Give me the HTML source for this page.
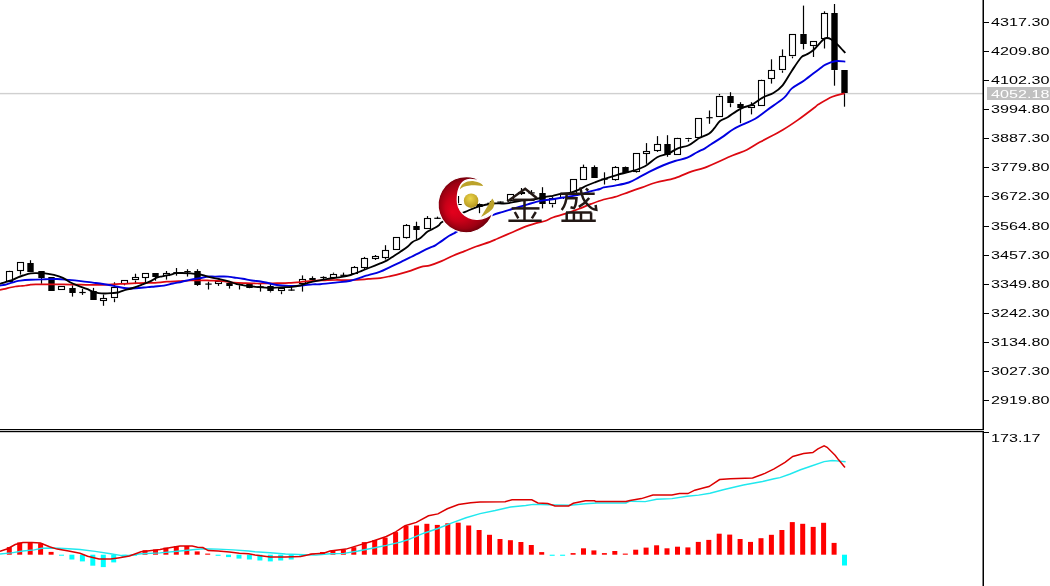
<!DOCTYPE html>
<html><head><meta charset="utf-8">
<style>
html,body{margin:0;padding:0;background:#fff;}
body{width:1050px;height:586px;overflow:hidden;position:relative;}
svg{position:absolute;left:0;top:0;filter:blur(0.3px);}
.w{stroke:#000;stroke-width:1.2;}
.bu{fill:#fff;stroke:#000;stroke-width:1.1;}
.bd{fill:#000;}
.lbl{font-family:"Liberation Sans",sans-serif;font-size:11px;fill:#000;}
</style></head>
<body>
<svg width="1050" height="586" viewBox="0 0 1050 586">
<defs>
<radialGradient id="rg" gradientUnits="userSpaceOnUse" cx="466" cy="204" r="29" fx="452" fy="212">
<stop offset="0" stop-color="#e4001c"/>
<stop offset="0.45" stop-color="#c80018"/>
<stop offset="0.8" stop-color="#9c0012"/>
<stop offset="1" stop-color="#68000a"/>
</radialGradient>
<radialGradient id="gg" cx="0.45" cy="0.35" r="0.6">
<stop offset="0" stop-color="#ecd64a"/>
<stop offset="1" stop-color="#b89a22"/>
</radialGradient>
<mask id="cm"><rect width="1050" height="586" fill="#fff"/><ellipse cx="476.5" cy="200" rx="19.5" ry="18.7" fill="#000"/></mask>
</defs>
<rect width="1050" height="586" fill="#fff"/>
<!-- price line -->
<rect x="0" y="92.9" width="983" height="1.4" fill="#d0d0d0"/>
<g id="candles">
<line x1="9.5" y1="270.5" x2="9.5" y2="270.7" class="w"/>
<line x1="9.5" y1="281.5" x2="9.5" y2="281.7" class="w"/>
<rect x="6.5" y="271.5" width="6.0" height="10.0" class="bu"/>
<line x1="20.5" y1="262.3" x2="20.5" y2="262.5" class="w"/>
<line x1="20.5" y1="271.0" x2="20.5" y2="274.6" class="w"/>
<rect x="17.5" y="262.5" width="6.0" height="8.0" class="bu"/>
<line x1="30.5" y1="260.2" x2="30.5" y2="263.0" class="w"/>
<rect x="27.3" y="263.0" width="6.4" height="9.0" class="bd"/>
<line x1="41.5" y1="277.6" x2="41.5" y2="283.8" class="w"/>
<rect x="38.3" y="271.0" width="6.4" height="7.0" class="bd"/>
<line x1="51.5" y1="277.0" x2="51.5" y2="277.2" class="w"/>
<rect x="48.3" y="277.0" width="6.4" height="14.0" class="bd"/>
<rect x="58.5" y="286.5" width="6.0" height="3.0" class="bu"/>
<line x1="72.5" y1="285.3" x2="72.5" y2="288.3" class="w"/>
<line x1="72.5" y1="293.0" x2="72.5" y2="296.6" class="w"/>
<rect x="69.3" y="288.0" width="6.4" height="5.0" class="bd"/>
<line x1="82.5" y1="288.9" x2="82.5" y2="294.9" class="w"/>
<line x1="79.3" y1="292.5" x2="85.7" y2="292.5" class="w"/>
<line x1="93.5" y1="287.9" x2="93.5" y2="291.3" class="w"/>
<rect x="90.3" y="291.0" width="6.4" height="9.0" class="bd"/>
<line x1="103.5" y1="294.5" x2="103.5" y2="298.0" class="w"/>
<line x1="103.5" y1="301.0" x2="103.5" y2="305.8" class="w"/>
<rect x="100.5" y="298.5" width="6.0" height="2.0" class="bu"/>
<line x1="114.5" y1="282.3" x2="114.5" y2="287.0" class="w"/>
<line x1="114.5" y1="298.5" x2="114.5" y2="302.2" class="w"/>
<rect x="111.5" y="287.5" width="6.0" height="10.0" class="bu"/>
<line x1="124.5" y1="283.5" x2="124.5" y2="285.3" class="w"/>
<rect x="121.5" y="280.5" width="6.0" height="3.0" class="bu"/>
<line x1="135.5" y1="273.7" x2="135.5" y2="277.2" class="w"/>
<line x1="135.5" y1="280.5" x2="135.5" y2="284.1" class="w"/>
<rect x="132.5" y="277.5" width="6.0" height="2.0" class="bu"/>
<line x1="145.5" y1="277.5" x2="145.5" y2="282.3" class="w"/>
<rect x="142.5" y="273.5" width="6.0" height="4.0" class="bu"/>
<line x1="155.5" y1="276.6" x2="155.5" y2="280.7" class="w"/>
<rect x="152.3" y="273.0" width="6.4" height="4.0" class="bd"/>
<line x1="166.5" y1="271.0" x2="166.5" y2="273.0" class="w"/>
<line x1="166.5" y1="276.0" x2="166.5" y2="279.6" class="w"/>
<rect x="163.5" y="273.5" width="6.0" height="2.0" class="bu"/>
<line x1="176.5" y1="268.0" x2="176.5" y2="275.7" class="w"/>
<line x1="173.3" y1="272.7" x2="179.7" y2="272.7" class="w"/>
<line x1="187.5" y1="269.2" x2="187.5" y2="276.6" class="w"/>
<line x1="184.3" y1="271.6" x2="190.7" y2="271.6" class="w"/>
<line x1="197.5" y1="269.2" x2="197.5" y2="271.0" class="w"/>
<line x1="197.5" y1="284.7" x2="197.5" y2="285.9" class="w"/>
<rect x="194.3" y="271.0" width="6.4" height="14.0" class="bd"/>
<line x1="208.5" y1="281.7" x2="208.5" y2="289.5" class="w"/>
<line x1="205.3" y1="284.1" x2="211.7" y2="284.1" class="w"/>
<line x1="218.5" y1="284.0" x2="218.5" y2="285.9" class="w"/>
<rect x="215.5" y="281.5" width="6.0" height="2.0" class="bu"/>
<line x1="229.5" y1="281.5" x2="229.5" y2="283.2" class="w"/>
<line x1="229.5" y1="285.6" x2="229.5" y2="288.6" class="w"/>
<rect x="226.3" y="283.0" width="6.4" height="3.0" class="bd"/>
<line x1="239.5" y1="283.0" x2="239.5" y2="283.5" class="w"/>
<line x1="239.5" y1="285.3" x2="239.5" y2="289.5" class="w"/>
<rect x="236.3" y="284.0" width="6.4" height="1.0" class="bd"/>
<line x1="249.5" y1="283.5" x2="249.5" y2="284.1" class="w"/>
<line x1="249.5" y1="288.3" x2="249.5" y2="288.5" class="w"/>
<rect x="246.3" y="284.0" width="6.4" height="4.0" class="bd"/>
<line x1="260.5" y1="283.3" x2="260.5" y2="291.6" class="w"/>
<line x1="257.3" y1="286.8" x2="263.7" y2="286.8" class="w"/>
<line x1="270.5" y1="283.3" x2="270.5" y2="286.0" class="w"/>
<line x1="270.5" y1="291.3" x2="270.5" y2="292.4" class="w"/>
<rect x="267.3" y="286.0" width="6.4" height="5.0" class="bd"/>
<line x1="281.5" y1="291.3" x2="281.5" y2="294.2" class="w"/>
<rect x="278.5" y="288.5" width="6.0" height="2.0" class="bu"/>
<line x1="291.5" y1="285.9" x2="291.5" y2="290.7" class="w"/>
<line x1="288.3" y1="290.1" x2="294.7" y2="290.1" class="w"/>
<line x1="302.5" y1="275.4" x2="302.5" y2="279.3" class="w"/>
<line x1="302.5" y1="283.5" x2="302.5" y2="291.6" class="w"/>
<rect x="299.5" y="279.5" width="6.0" height="4.0" class="bu"/>
<line x1="312.5" y1="276.3" x2="312.5" y2="278.1" class="w"/>
<rect x="309.3" y="278.0" width="6.4" height="2.0" class="bd"/>
<line x1="323.5" y1="276.3" x2="323.5" y2="279.3" class="w"/>
<line x1="320.3" y1="277.5" x2="326.7" y2="277.5" class="w"/>
<line x1="333.5" y1="272.6" x2="333.5" y2="273.8" class="w"/>
<rect x="330.5" y="274.5" width="6.0" height="3.0" class="bu"/>
<line x1="343.5" y1="272.6" x2="343.5" y2="276.5" class="w"/>
<line x1="340.3" y1="275.3" x2="346.7" y2="275.3" class="w"/>
<line x1="354.5" y1="266.1" x2="354.5" y2="267.3" class="w"/>
<rect x="351.5" y="267.5" width="6.0" height="6.0" class="bu"/>
<line x1="364.5" y1="256.9" x2="364.5" y2="258.0" class="w"/>
<line x1="364.5" y1="267.7" x2="364.5" y2="269.2" class="w"/>
<rect x="361.5" y="258.5" width="6.0" height="9.0" class="bu"/>
<line x1="375.5" y1="255.0" x2="375.5" y2="256.1" class="w"/>
<line x1="375.5" y1="258.8" x2="375.5" y2="260.0" class="w"/>
<rect x="372.5" y="256.5" width="6.0" height="2.0" class="bu"/>
<line x1="385.5" y1="245.2" x2="385.5" y2="250.2" class="w"/>
<line x1="385.5" y1="258.0" x2="385.5" y2="259.5" class="w"/>
<rect x="382.5" y="250.5" width="6.0" height="7.0" class="bu"/>
<rect x="393.5" y="237.5" width="6.0" height="12.0" class="bu"/>
<line x1="406.5" y1="224.1" x2="406.5" y2="225.0" class="w"/>
<line x1="406.5" y1="237.7" x2="406.5" y2="238.6" class="w"/>
<rect x="403.5" y="225.5" width="6.0" height="12.0" class="bu"/>
<line x1="416.5" y1="221.7" x2="416.5" y2="226.0" class="w"/>
<line x1="416.5" y1="229.7" x2="416.5" y2="239.1" class="w"/>
<rect x="413.3" y="226.0" width="6.4" height="4.0" class="bd"/>
<line x1="427.5" y1="216.1" x2="427.5" y2="218.0" class="w"/>
<rect x="424.5" y="218.5" width="6.0" height="10.0" class="bu"/>
<line x1="437.5" y1="216.6" x2="437.5" y2="219.0" class="w"/>
<line x1="434.3" y1="218.3" x2="440.7" y2="218.3" class="w"/>
<line x1="448.5" y1="206.0" x2="448.5" y2="208.0" class="w"/>
<line x1="448.5" y1="216.0" x2="448.5" y2="217.0" class="w"/>
<rect x="445.5" y="208.5" width="6.0" height="7.0" class="bu"/>
<line x1="458.5" y1="196.0" x2="458.5" y2="203.5" class="w"/>
<rect x="455.3" y="204.0" width="6.4" height="1.0" class="bd"/>
<line x1="469.5" y1="199.0" x2="469.5" y2="200.0" class="w"/>
<line x1="469.5" y1="206.0" x2="469.5" y2="207.0" class="w"/>
<rect x="466.5" y="200.5" width="6.0" height="5.0" class="bu"/>
<line x1="479.5" y1="203.0" x2="479.5" y2="203.6" class="w"/>
<line x1="479.5" y1="206.8" x2="479.5" y2="213.2" class="w"/>
<rect x="476.3" y="204.0" width="6.4" height="3.0" class="bd"/>
<line x1="490.5" y1="201.0" x2="490.5" y2="205.0" class="w"/>
<line x1="487.3" y1="203.3" x2="493.7" y2="203.3" class="w"/>
<line x1="500.5" y1="201.5" x2="500.5" y2="203.5" class="w"/>
<line x1="497.3" y1="202.1" x2="503.7" y2="202.1" class="w"/>
<line x1="510.5" y1="200.8" x2="510.5" y2="201.5" class="w"/>
<rect x="507.5" y="194.5" width="6.0" height="6.0" class="bu"/>
<line x1="521.5" y1="188.0" x2="521.5" y2="192.0" class="w"/>
<line x1="521.5" y1="194.0" x2="521.5" y2="195.0" class="w"/>
<rect x="518.5" y="192.5" width="6.0" height="1.0" class="bu"/>
<line x1="531.5" y1="190.1" x2="531.5" y2="194.0" class="w"/>
<line x1="528.3" y1="192.9" x2="534.7" y2="192.9" class="w"/>
<line x1="542.5" y1="187.2" x2="542.5" y2="193.1" class="w"/>
<line x1="542.5" y1="203.9" x2="542.5" y2="208.4" class="w"/>
<rect x="539.3" y="193.0" width="6.4" height="11.0" class="bd"/>
<line x1="552.5" y1="196.7" x2="552.5" y2="197.9" class="w"/>
<line x1="552.5" y1="204.5" x2="552.5" y2="207.5" class="w"/>
<rect x="549.5" y="198.5" width="6.0" height="5.0" class="bu"/>
<line x1="563.5" y1="193.0" x2="563.5" y2="194.0" class="w"/>
<line x1="563.5" y1="198.0" x2="563.5" y2="199.0" class="w"/>
<rect x="560.5" y="194.5" width="6.0" height="3.0" class="bu"/>
<line x1="573.5" y1="179.0" x2="573.5" y2="179.2" class="w"/>
<line x1="573.5" y1="193.5" x2="573.5" y2="194.0" class="w"/>
<rect x="570.5" y="179.5" width="6.0" height="14.0" class="bu"/>
<line x1="583.5" y1="164.6" x2="583.5" y2="167.3" class="w"/>
<rect x="580.5" y="167.5" width="6.0" height="12.0" class="bu"/>
<line x1="594.5" y1="165.4" x2="594.5" y2="167.3" class="w"/>
<rect x="591.3" y="167.0" width="6.4" height="11.0" class="bd"/>
<line x1="604.5" y1="172.3" x2="604.5" y2="184.5" class="w"/>
<line x1="601.3" y1="179.2" x2="607.7" y2="179.2" class="w"/>
<line x1="615.5" y1="166.1" x2="615.5" y2="167.3" class="w"/>
<line x1="615.5" y1="179.6" x2="615.5" y2="180.7" class="w"/>
<rect x="612.5" y="167.5" width="6.0" height="12.0" class="bu"/>
<line x1="625.5" y1="166.5" x2="625.5" y2="167.3" class="w"/>
<rect x="622.3" y="167.0" width="6.4" height="6.0" class="bd"/>
<line x1="636.5" y1="172.4" x2="636.5" y2="173.0" class="w"/>
<rect x="633.5" y="153.5" width="6.0" height="18.0" class="bu"/>
<line x1="646.5" y1="143.1" x2="646.5" y2="151.2" class="w"/>
<line x1="646.5" y1="154.0" x2="646.5" y2="163.8" class="w"/>
<rect x="643.5" y="151.5" width="6.0" height="2.0" class="bu"/>
<line x1="657.5" y1="136.1" x2="657.5" y2="144.1" class="w"/>
<line x1="657.5" y1="151.1" x2="657.5" y2="152.0" class="w"/>
<rect x="654.5" y="144.5" width="6.0" height="6.0" class="bu"/>
<line x1="667.5" y1="135.2" x2="667.5" y2="144.1" class="w"/>
<line x1="667.5" y1="154.9" x2="667.5" y2="156.8" class="w"/>
<rect x="664.3" y="144.0" width="6.4" height="11.0" class="bd"/>
<line x1="677.5" y1="137.3" x2="677.5" y2="137.5" class="w"/>
<line x1="677.5" y1="154.9" x2="677.5" y2="155.0" class="w"/>
<rect x="674.5" y="138.5" width="6.0" height="16.0" class="bu"/>
<line x1="688.5" y1="137.3" x2="688.5" y2="137.5" class="w"/>
<line x1="688.5" y1="139.4" x2="688.5" y2="141.7" class="w"/>
<rect x="685.3" y="138.0" width="6.4" height="1.0" class="bd"/>
<rect x="695.5" y="118.5" width="6.0" height="19.0" class="bu"/>
<line x1="709.5" y1="110.5" x2="709.5" y2="123.8" class="w"/>
<line x1="706.3" y1="117.7" x2="712.7" y2="117.7" class="w"/>
<line x1="719.5" y1="93.9" x2="719.5" y2="95.5" class="w"/>
<rect x="716.5" y="96.5" width="6.0" height="20.0" class="bu"/>
<line x1="730.5" y1="92.2" x2="730.5" y2="96.1" class="w"/>
<line x1="730.5" y1="103.3" x2="730.5" y2="107.2" class="w"/>
<rect x="727.3" y="96.0" width="6.4" height="7.0" class="bd"/>
<line x1="740.5" y1="102.2" x2="740.5" y2="104.4" class="w"/>
<line x1="740.5" y1="108.3" x2="740.5" y2="123.2" class="w"/>
<rect x="737.3" y="104.0" width="6.4" height="4.0" class="bd"/>
<line x1="751.5" y1="102.2" x2="751.5" y2="105.0" class="w"/>
<line x1="751.5" y1="108.3" x2="751.5" y2="114.4" class="w"/>
<rect x="748.5" y="105.5" width="6.0" height="2.0" class="bu"/>
<line x1="761.5" y1="79.7" x2="761.5" y2="80.0" class="w"/>
<line x1="761.5" y1="105.6" x2="761.5" y2="106.0" class="w"/>
<rect x="758.5" y="80.5" width="6.0" height="25.0" class="bu"/>
<line x1="771.5" y1="59.3" x2="771.5" y2="70.5" class="w"/>
<line x1="771.5" y1="79.0" x2="771.5" y2="83.6" class="w"/>
<rect x="768.5" y="70.5" width="6.0" height="8.0" class="bu"/>
<line x1="782.5" y1="49.4" x2="782.5" y2="56.5" class="w"/>
<line x1="782.5" y1="70.5" x2="782.5" y2="72.8" class="w"/>
<rect x="779.5" y="56.5" width="6.0" height="13.0" class="bu"/>
<line x1="792.5" y1="56.5" x2="792.5" y2="58.3" class="w"/>
<rect x="789.5" y="34.5" width="6.0" height="21.0" class="bu"/>
<line x1="803.5" y1="5.6" x2="803.5" y2="33.9" class="w"/>
<line x1="803.5" y1="43.8" x2="803.5" y2="49.4" class="w"/>
<rect x="800.3" y="34.0" width="6.4" height="10.0" class="bd"/>
<line x1="813.5" y1="41.0" x2="813.5" y2="41.2" class="w"/>
<line x1="813.5" y1="46.2" x2="813.5" y2="57.0" class="w"/>
<rect x="810.5" y="41.5" width="6.0" height="4.0" class="bu"/>
<line x1="824.5" y1="11.3" x2="824.5" y2="13.3" class="w"/>
<line x1="824.5" y1="38.8" x2="824.5" y2="48.5" class="w"/>
<rect x="821.5" y="13.5" width="6.0" height="25.0" class="bu"/>
<line x1="834.5" y1="4.0" x2="834.5" y2="13.3" class="w"/>
<line x1="834.5" y1="70.1" x2="834.5" y2="85.7" class="w"/>
<rect x="831.3" y="13.0" width="6.4" height="57.0" class="bd"/>
<line x1="844.5" y1="93.4" x2="844.5" y2="106.7" class="w"/>
<rect x="841.3" y="70.0" width="6.4" height="23.0" class="bd"/>
</g>
<path d="M0.00,289.80 C0.85,289.63 3.40,289.18 5.10,288.80 C6.80,288.42 8.48,287.88 10.20,287.50 C11.92,287.12 13.68,286.75 15.40,286.50 C17.12,286.25 18.80,286.17 20.50,286.00 C22.20,285.83 23.90,285.72 25.60,285.50 C27.30,285.28 29.00,284.90 30.70,284.70 C32.40,284.50 33.42,284.35 35.80,284.30 C38.18,284.25 40.48,284.38 45.00,284.40 C49.52,284.42 56.93,284.35 62.90,284.40 C68.87,284.45 74.83,284.62 80.80,284.70 C86.77,284.78 93.52,284.95 98.70,284.90 C103.88,284.85 107.70,284.58 111.90,284.40 C116.10,284.22 119.92,284.00 123.90,283.80 C127.88,283.60 131.82,283.35 135.80,283.20 C139.78,283.05 144.60,282.97 147.80,282.90 C151.00,282.83 151.82,283.00 155.00,282.80 C158.18,282.60 162.92,281.98 166.90,281.70 C170.88,281.42 174.92,281.30 178.90,281.10 C182.88,280.90 186.82,280.63 190.80,280.50 C194.78,280.37 199.60,280.28 202.80,280.30 C206.00,280.32 206.82,280.47 210.00,280.60 C213.18,280.73 217.92,280.77 221.90,281.10 C225.88,281.43 229.92,282.25 233.90,282.60 C237.88,282.95 241.82,283.05 245.80,283.20 C249.78,283.35 254.60,283.47 257.80,283.50 C261.00,283.53 261.82,283.45 265.00,283.40 C268.18,283.35 272.92,283.28 276.90,283.20 C280.88,283.12 284.92,283.10 288.90,282.90 C292.88,282.70 296.82,282.35 300.80,282.00 C304.78,281.65 308.77,281.08 312.80,280.80 C316.83,280.52 321.23,280.43 325.00,280.30 C328.77,280.17 331.12,280.05 335.40,280.00 C339.68,279.95 345.58,280.13 350.70,280.00 C355.82,279.87 362.88,279.40 366.10,279.20 C369.32,279.00 367.65,278.98 370.00,278.80 C372.35,278.62 376.78,278.55 380.20,278.10 C383.62,277.65 387.08,276.83 390.50,276.10 C393.92,275.37 397.28,274.62 400.70,273.70 C404.12,272.78 407.58,271.75 411.00,270.60 C414.42,269.45 418.03,267.68 421.20,266.80 C424.37,265.92 426.62,266.25 430.00,265.30 C433.38,264.35 437.67,262.70 441.50,261.10 C445.33,259.50 449.15,257.37 453.00,255.70 C456.85,254.03 460.75,252.63 464.60,251.10 C468.45,249.57 471.87,248.03 476.10,246.50 C480.33,244.97 486.38,243.23 490.00,241.90 C493.62,240.57 494.37,239.98 497.80,238.50 C501.23,237.02 506.33,234.85 510.60,233.00 C514.87,231.15 519.13,229.03 523.40,227.40 C527.67,225.77 532.60,224.27 536.20,223.20 C539.80,222.13 542.23,221.95 545.00,221.00 C547.77,220.05 549.37,218.72 552.80,217.50 C556.23,216.28 561.33,215.12 565.60,213.70 C569.87,212.28 574.13,210.63 578.40,209.00 C582.67,207.37 586.98,205.48 591.20,203.90 C595.42,202.32 599.73,200.67 603.70,199.50 C607.67,198.33 610.83,198.13 615.00,196.90 C619.17,195.67 624.15,193.70 628.70,192.10 C633.25,190.50 637.75,188.90 642.30,187.30 C646.85,185.70 650.55,184.03 656.00,182.50 C661.45,180.97 669.02,179.97 675.00,178.10 C680.98,176.23 686.90,173.05 691.90,171.30 C696.90,169.55 698.25,170.23 705.00,167.60 C711.75,164.97 725.47,158.43 732.40,155.50 C739.33,152.57 742.00,152.23 746.60,150.00 C751.20,147.77 754.00,145.43 760.00,142.10 C766.00,138.77 776.27,133.70 782.60,130.00 C788.93,126.30 792.60,123.70 798.00,119.90 C803.40,116.10 811.55,109.82 815.00,107.20 C818.45,104.58 815.82,105.95 818.70,104.20 C821.58,102.45 827.98,98.52 832.30,96.70 C836.62,94.88 842.55,93.87 844.60,93.30" fill="none" stroke="#dc0810" stroke-width="1.75"/>
<path d="M0.00,285.50 C0.85,285.37 3.40,285.08 5.10,284.70 C6.80,284.32 8.48,283.72 10.20,283.20 C11.92,282.68 13.68,282.03 15.40,281.60 C17.12,281.17 17.95,280.90 20.50,280.60 C23.05,280.30 26.62,280.02 30.70,279.80 C34.78,279.58 40.62,279.43 45.00,279.30 C49.38,279.17 53.02,278.90 57.00,279.00 C60.98,279.10 64.93,279.55 68.90,279.90 C72.87,280.25 76.82,280.65 80.80,281.10 C84.78,281.55 89.60,282.20 92.80,282.60 C96.00,283.00 97.30,283.10 100.00,283.50 C102.70,283.90 106.02,284.45 109.00,285.00 C111.98,285.55 114.92,286.25 117.90,286.80 C120.88,287.35 123.92,288.05 126.90,288.30 C129.88,288.55 132.32,288.50 135.80,288.30 C139.28,288.10 144.60,287.40 147.80,287.10 C151.00,286.80 152.30,286.75 155.00,286.50 C157.70,286.25 161.02,286.10 164.00,285.60 C166.98,285.10 169.92,284.15 172.90,283.50 C175.88,282.85 178.92,282.35 181.90,281.70 C184.88,281.05 187.82,280.20 190.80,279.60 C193.78,279.00 196.82,278.62 199.80,278.10 C202.78,277.58 206.17,276.75 208.70,276.50 C211.23,276.25 211.80,276.58 215.00,276.60 C218.20,276.62 224.75,276.45 227.90,276.60 C231.05,276.75 231.42,277.15 233.90,277.50 C236.38,277.85 239.82,278.20 242.80,278.70 C245.78,279.20 248.82,280.03 251.80,280.50 C254.78,280.97 258.00,281.08 260.70,281.50 C263.40,281.92 265.30,282.42 268.00,283.00 C270.70,283.58 273.42,284.52 276.90,285.00 C280.38,285.48 284.92,285.80 288.90,285.90 C292.88,286.00 296.82,285.85 300.80,285.60 C304.78,285.35 309.60,284.63 312.80,284.40 C316.00,284.17 316.23,284.50 320.00,284.20 C323.77,283.90 330.28,283.18 335.40,282.60 C340.52,282.02 345.58,281.85 350.70,280.70 C355.82,279.55 362.88,276.70 366.10,275.70 C369.32,274.70 367.65,275.38 370.00,274.70 C372.35,274.02 376.78,272.92 380.20,271.60 C383.62,270.28 387.08,268.38 390.50,266.80 C393.92,265.22 397.28,263.73 400.70,262.10 C404.12,260.47 407.58,258.72 411.00,257.00 C414.42,255.28 418.03,253.37 421.20,251.80 C424.37,250.23 427.63,248.67 430.00,247.60 C432.37,246.53 433.48,246.48 435.40,245.40 C437.32,244.32 439.20,242.70 441.50,241.10 C443.80,239.50 446.90,237.20 449.20,235.80 C451.50,234.40 453.77,233.53 455.30,232.70 C456.83,231.87 452.32,233.67 458.40,230.80 C464.48,227.93 484.52,218.62 491.80,215.50 C499.08,212.38 498.97,213.10 502.10,212.10 C505.23,211.10 507.77,210.35 510.60,209.50 C513.43,208.65 516.25,207.85 519.10,207.00 C521.95,206.15 524.85,205.27 527.70,204.40 C530.55,203.53 533.32,202.52 536.20,201.80 C539.08,201.08 542.23,200.53 545.00,200.10 C547.77,199.67 549.37,199.70 552.80,199.20 C556.23,198.70 561.33,197.82 565.60,197.10 C569.87,196.38 574.13,195.90 578.40,194.90 C582.67,193.90 587.60,192.08 591.20,191.10 C594.80,190.12 597.92,189.62 600.00,189.00 C602.08,188.38 601.20,187.97 603.70,187.40 C606.20,186.83 610.83,186.42 615.00,185.60 C619.17,184.78 624.72,183.87 628.70,182.50 C632.68,181.13 635.50,179.17 638.90,177.40 C642.30,175.63 645.12,173.88 649.10,171.90 C653.08,169.92 658.48,167.32 662.80,165.50 C667.12,163.68 670.92,162.30 675.00,161.00 C679.08,159.70 683.70,159.12 687.30,157.70 C690.90,156.28 693.65,154.07 696.60,152.50 C699.55,150.93 702.58,149.67 705.00,148.30 C707.42,146.93 708.23,146.17 711.10,144.30 C713.97,142.43 718.50,139.60 722.20,137.10 C725.90,134.60 729.62,131.52 733.30,129.30 C736.98,127.08 740.65,125.57 744.30,123.80 C747.95,122.03 751.37,121.02 755.20,118.70 C759.03,116.38 762.47,113.42 767.30,109.90 C772.13,106.38 780.10,101.18 784.20,97.60 C788.30,94.02 788.57,91.25 791.90,88.40 C795.23,85.55 799.73,83.67 804.20,80.50 C808.67,77.33 815.15,72.05 818.70,69.40 C822.25,66.75 822.78,65.97 825.50,64.60 C828.22,63.23 831.70,61.70 835.00,61.20 C838.30,60.70 843.58,61.53 845.30,61.60" fill="none" stroke="#0000e0" stroke-width="1.9"/>
<path d="M0.00,283.90 C1.00,283.55 3.87,282.48 6.00,281.80 C8.13,281.12 10.82,280.55 12.80,279.80 C14.78,279.05 16.20,278.02 17.90,277.30 C19.60,276.58 20.87,276.15 23.00,275.50 C25.13,274.85 28.13,273.78 30.70,273.40 C33.27,273.02 36.02,273.20 38.40,273.20 C40.78,273.20 42.40,273.12 45.00,273.40 C47.60,273.68 51.02,274.17 54.00,274.90 C56.98,275.63 60.22,276.57 62.90,277.80 C65.58,279.03 67.62,281.00 70.10,282.30 C72.58,283.60 75.02,284.50 77.80,285.60 C80.58,286.70 84.30,287.90 86.80,288.90 C89.30,289.90 90.82,290.90 92.80,291.60 C94.78,292.30 96.67,292.78 98.70,293.10 C100.73,293.42 102.80,293.50 105.00,293.50 C107.20,293.50 109.75,293.27 111.90,293.10 C114.05,292.93 115.90,292.95 117.90,292.50 C119.90,292.05 121.42,291.15 123.90,290.40 C126.38,289.65 129.82,288.95 132.80,288.00 C135.78,287.05 138.82,285.85 141.80,284.70 C144.78,283.55 148.22,282.28 150.70,281.10 C153.18,279.92 154.78,278.40 156.70,277.60 C158.62,276.80 160.00,276.77 162.20,276.30 C164.40,275.83 167.62,275.32 169.90,274.80 C172.18,274.28 173.90,273.50 175.90,273.20 C177.90,272.90 179.42,272.98 181.90,273.00 C184.38,273.02 188.32,273.10 190.80,273.30 C193.28,273.50 194.80,273.90 196.80,274.20 C198.80,274.50 200.82,274.65 202.80,275.10 C204.78,275.55 206.00,276.25 208.70,276.90 C211.40,277.55 215.80,278.30 219.00,279.00 C222.20,279.70 224.92,280.25 227.90,281.10 C230.88,281.95 233.92,283.35 236.90,284.10 C239.88,284.85 242.32,285.10 245.80,285.60 C249.28,286.10 253.77,286.70 257.80,287.10 C261.83,287.50 266.30,287.97 270.00,288.00 C273.70,288.03 276.33,287.50 280.00,287.30 C283.67,287.10 288.67,287.10 292.00,286.80 C295.33,286.50 297.67,286.05 300.00,285.50 C302.33,284.95 303.87,284.13 306.00,283.50 C308.13,282.87 309.18,282.48 312.80,281.70 C316.42,280.92 323.30,279.53 327.70,278.80 C332.10,278.07 335.37,277.93 339.20,277.30 C343.03,276.67 346.87,276.10 350.70,275.00 C354.53,273.90 358.98,271.95 362.20,270.70 C365.42,269.45 367.00,268.72 370.00,267.50 C373.00,266.28 377.35,264.58 380.20,263.40 C383.05,262.22 384.82,261.65 387.10,260.40 C389.38,259.15 391.63,257.38 393.90,255.90 C396.17,254.42 398.43,253.03 400.70,251.50 C402.97,249.97 405.52,248.30 407.50,246.70 C409.48,245.10 410.50,243.32 412.60,241.90 C414.70,240.48 417.60,239.92 420.10,238.20 C422.60,236.48 425.12,233.33 427.60,231.60 C430.08,229.87 433.07,228.90 435.00,227.80 C436.93,226.70 437.80,226.10 439.20,225.00 C440.60,223.90 439.07,223.40 443.40,221.20 C447.73,219.00 459.40,214.22 465.20,211.80 C471.00,209.38 473.62,208.08 478.20,206.70 C482.78,205.32 488.72,204.03 492.70,203.50 C496.68,202.97 499.40,203.57 502.10,203.50 C504.80,203.43 506.07,203.52 508.90,203.10 C511.73,202.68 515.27,201.57 519.10,201.00 C522.93,200.43 527.28,200.43 531.90,199.70 C536.52,198.97 543.32,197.25 546.80,196.60 C550.28,195.95 550.38,196.28 552.80,195.80 C555.22,195.32 558.45,194.20 561.30,193.70 C564.15,193.20 567.05,193.45 569.90,192.80 C572.75,192.15 575.57,191.02 578.40,189.80 C581.23,188.58 584.05,186.78 586.90,185.50 C589.75,184.22 592.70,183.15 595.50,182.10 C598.30,181.05 600.07,180.42 603.70,179.20 C607.33,177.98 612.75,176.10 617.30,174.80 C621.85,173.50 626.38,172.83 631.00,171.40 C635.62,169.97 640.63,168.57 645.00,166.20 C649.37,163.83 653.28,159.32 657.20,157.20 C661.12,155.08 665.05,154.98 668.50,153.50 C671.95,152.02 674.62,149.63 677.90,148.30 C681.18,146.97 685.08,146.90 688.20,145.50 C691.32,144.10 694.63,141.20 696.60,139.90 C698.57,138.60 697.95,138.72 700.00,137.70 C702.05,136.68 706.50,135.38 708.90,133.80 C711.30,132.22 712.55,130.33 714.40,128.20 C716.25,126.07 717.78,122.83 720.00,121.00 C722.22,119.17 724.93,118.85 727.70,117.20 C730.47,115.55 733.83,112.77 736.60,111.10 C739.37,109.43 741.72,108.28 744.30,107.20 C746.88,106.12 749.03,106.20 752.10,104.60 C755.17,103.00 759.15,99.53 762.70,97.60 C766.25,95.67 770.08,95.05 773.40,93.00 C776.72,90.95 779.52,89.02 782.60,85.30 C785.68,81.58 788.82,75.33 791.90,70.70 C794.98,66.07 798.75,60.15 801.10,57.50 C803.45,54.85 803.98,56.00 806.00,54.80 C808.02,53.60 810.40,52.77 813.20,50.30 C816.00,47.83 820.52,42.05 822.80,40.00 C825.08,37.95 825.53,38.12 826.90,38.00 C828.27,37.88 829.18,38.17 831.00,39.30 C832.82,40.43 835.42,42.52 837.80,44.80 C840.18,47.08 844.05,51.63 845.30,53.00" fill="none" stroke="#000" stroke-width="1.85"/>
<!-- logo -->
<g id="logo">
<path d="M482.8,182.2 A28,28 0 1 0 493,212.5 C488,217.5 481,219.5 476.5,219.3 C465,219 457,210 457.2,199.5 C457.3,187 462,179.6 470,179.4 C475,179.3 479,180.5 482.5,182.5 Z" fill="url(#rg)" stroke="#fff" stroke-width="1.2"/>
<circle cx="471.1" cy="200.7" r="7.3" fill="url(#gg)"/>
<path d="M459.8,189.5 C461,183.5 467,180.5 474,181.2 C479,181.8 482,183.5 483.2,186 C479,185.6 474,185.2 470,185.4 C465,185.7 461.5,187 459.8,189.5 Z" fill="#bba22a"/>
<path d="M492.3,198.6 Q499.8,208 481,216.9 Q486,208.8 492.3,198.6 Z" fill="#bba22a"/>
</g>
<g id="txt" stroke="#231815" fill="none" stroke-width="2.5" stroke-linecap="butt">
<path d="M507.3,201.6 L525.2,188.7 L537,198.2"/>
<path d="M512.3,199.8 H534.5"/>
<path d="M511.6,208.4 H539.5"/>
<path d="M524.5,200.5 V220.6"/>
<path d="M514.8,212 L518.3,218.3"/>
<path d="M535.8,212 L531.9,218.3"/>
<path d="M508.4,220.8 H541.7"/>
<path d="M560.3,193.7 H594.7"/>
<path d="M566.7,194 Q566.5,204 561.7,210"/>
<path d="M566.7,198.2 H576.5 Q576,206 574,208.2 L570.5,207.2"/>
<path d="M580.4,187.3 Q582,200 588,205 Q592,209.5 596.3,209.8 L595.6,205"/>
<path d="M589.2,198 Q585,203.5 578.8,206.8"/>
<path d="M585.8,188.6 L588.3,190.6"/>
<path d="M566,212.4 H591.5 M566.7,212.4 V220.5 M573.9,212.4 V220.5 M581,212.4 V220.5 M591.1,212.4 V220.5"/>
<path d="M561.4,220.8 H595.8"/>
</g>
<!-- axes -->
<rect x="982.5" y="0" width="1.5" height="430" fill="#000"/>
<rect x="982.5" y="431" width="1.5" height="155" fill="#000"/>
<rect x="0" y="429" width="984" height="1.2" fill="#000"/>
<rect x="0" y="431" width="984" height="1.2" fill="#000"/>
<rect x="984" y="432" width="5" height="1" fill="#000"/>
<rect x="984" y="22" width="5" height="1" fill="#000"/>
<text x="991" y="26.5" class="lbl" transform="translate(991 0) scale(1.47 1) translate(-991 0)">4317.30</text>
<rect x="984" y="51" width="5" height="1" fill="#000"/>
<text x="991" y="55.5" class="lbl" transform="translate(991 0) scale(1.47 1) translate(-991 0)">4209.80</text>
<rect x="984" y="80" width="5" height="1" fill="#000"/>
<text x="991" y="84.5" class="lbl" transform="translate(991 0) scale(1.47 1) translate(-991 0)">4102.30</text>
<rect x="984" y="109" width="5" height="1" fill="#000"/>
<text x="991" y="113.5" class="lbl" transform="translate(991 0) scale(1.47 1) translate(-991 0)">3994.80</text>
<rect x="984" y="138" width="5" height="1" fill="#000"/>
<text x="991" y="142.5" class="lbl" transform="translate(991 0) scale(1.47 1) translate(-991 0)">3887.30</text>
<rect x="984" y="167" width="5" height="1" fill="#000"/>
<text x="991" y="171.5" class="lbl" transform="translate(991 0) scale(1.47 1) translate(-991 0)">3779.80</text>
<rect x="984" y="196" width="5" height="1" fill="#000"/>
<text x="991" y="200.5" class="lbl" transform="translate(991 0) scale(1.47 1) translate(-991 0)">3672.30</text>
<rect x="984" y="226" width="5" height="1" fill="#000"/>
<text x="991" y="230.5" class="lbl" transform="translate(991 0) scale(1.47 1) translate(-991 0)">3564.80</text>
<rect x="984" y="255" width="5" height="1" fill="#000"/>
<text x="991" y="259.5" class="lbl" transform="translate(991 0) scale(1.47 1) translate(-991 0)">3457.30</text>
<rect x="984" y="284" width="5" height="1" fill="#000"/>
<text x="991" y="288.5" class="lbl" transform="translate(991 0) scale(1.47 1) translate(-991 0)">3349.80</text>
<rect x="984" y="313" width="5" height="1" fill="#000"/>
<text x="991" y="317.5" class="lbl" transform="translate(991 0) scale(1.47 1) translate(-991 0)">3242.30</text>
<rect x="984" y="342" width="5" height="1" fill="#000"/>
<text x="991" y="346.5" class="lbl" transform="translate(991 0) scale(1.47 1) translate(-991 0)">3134.80</text>
<rect x="984" y="371" width="5" height="1" fill="#000"/>
<text x="991" y="375.5" class="lbl" transform="translate(991 0) scale(1.47 1) translate(-991 0)">3027.30</text>
<rect x="984" y="400" width="5" height="1" fill="#000"/>
<text x="991" y="404.5" class="lbl" transform="translate(991 0) scale(1.47 1) translate(-991 0)">2919.80</text>
<rect x="987" y="87" width="70" height="13" fill="#c0c0c0"/>
<text x="991" y="98" class="lbl" fill="#fff" style="fill:#fff" transform="translate(991 0) scale(1.47 1) translate(-991 0)">4052.18</text>
<text x="991" y="442" class="lbl" transform="translate(991 0) scale(1.47 1) translate(-991 0)">173.17</text>
<!-- macd -->
<g id="bars">
<rect x="6.8" y="547.1" width="5" height="7.6" fill="#ff0000"/>
<rect x="17.2" y="542.4" width="5" height="12.3" fill="#ff0000"/>
<rect x="27.7" y="542.4" width="5" height="12.3" fill="#ff0000"/>
<rect x="38.1" y="543.3" width="5" height="11.4" fill="#ff0000"/>
<rect x="48.6" y="551.9" width="5" height="2.8" fill="#ff0000"/>
<rect x="59.0" y="554.7" width="5" height="1.0" fill="#00ffff"/>
<rect x="69.4" y="554.7" width="5" height="4.8" fill="#00ffff"/>
<rect x="79.9" y="554.7" width="5" height="6.7" fill="#00ffff"/>
<rect x="90.3" y="554.7" width="5" height="11.0" fill="#00ffff"/>
<rect x="100.8" y="554.7" width="5" height="12.4" fill="#00ffff"/>
<rect x="111.2" y="554.7" width="5" height="7.7" fill="#00ffff"/>
<rect x="121.6" y="554.7" width="5" height="2.4" fill="#00ffff"/>
<rect x="132.1" y="554.7" width="5" height="1.0" fill="#00ffff"/>
<rect x="142.5" y="550.2" width="5" height="4.5" fill="#ff0000"/>
<rect x="153.0" y="549.5" width="5" height="5.2" fill="#ff0000"/>
<rect x="163.4" y="547.6" width="5" height="7.1" fill="#ff0000"/>
<rect x="173.8" y="546.2" width="5" height="8.5" fill="#ff0000"/>
<rect x="184.3" y="546.0" width="5" height="8.7" fill="#ff0000"/>
<rect x="194.7" y="551.4" width="5" height="3.3" fill="#ff0000"/>
<rect x="205.2" y="553.6" width="5" height="1.1" fill="#ff0000"/>
<rect x="215.6" y="554.7" width="5" height="1.1" fill="#00ffff"/>
<rect x="226.0" y="554.7" width="5" height="2.4" fill="#00ffff"/>
<rect x="236.5" y="554.7" width="5" height="3.9" fill="#00ffff"/>
<rect x="246.9" y="554.7" width="5" height="4.8" fill="#00ffff"/>
<rect x="257.4" y="554.7" width="5" height="5.8" fill="#00ffff"/>
<rect x="267.8" y="554.7" width="5" height="6.7" fill="#00ffff"/>
<rect x="278.2" y="554.7" width="5" height="5.8" fill="#00ffff"/>
<rect x="288.7" y="554.7" width="5" height="4.8" fill="#00ffff"/>
<rect x="299.1" y="554.7" width="5" height="1.1" fill="#00ffff"/>
<rect x="309.6" y="553.6" width="5" height="1.1" fill="#ff0000"/>
<rect x="320.0" y="552.0" width="5" height="2.7" fill="#ff0000"/>
<rect x="330.4" y="550.5" width="5" height="4.2" fill="#ff0000"/>
<rect x="340.9" y="549.8" width="5" height="4.9" fill="#ff0000"/>
<rect x="351.3" y="547.2" width="5" height="7.5" fill="#ff0000"/>
<rect x="361.8" y="542.1" width="5" height="12.6" fill="#ff0000"/>
<rect x="372.2" y="540.1" width="5" height="14.6" fill="#ff0000"/>
<rect x="382.6" y="537.6" width="5" height="17.1" fill="#ff0000"/>
<rect x="393.1" y="532.1" width="5" height="22.6" fill="#ff0000"/>
<rect x="403.5" y="526.0" width="5" height="28.7" fill="#ff0000"/>
<rect x="414.0" y="525.5" width="5" height="29.2" fill="#ff0000"/>
<rect x="424.4" y="523.8" width="5" height="30.9" fill="#ff0000"/>
<rect x="434.8" y="524.9" width="5" height="29.8" fill="#ff0000"/>
<rect x="445.3" y="523.3" width="5" height="31.4" fill="#ff0000"/>
<rect x="455.7" y="522.7" width="5" height="32.0" fill="#ff0000"/>
<rect x="466.2" y="525.5" width="5" height="29.2" fill="#ff0000"/>
<rect x="476.6" y="530.0" width="5" height="24.7" fill="#ff0000"/>
<rect x="487.0" y="534.8" width="5" height="19.9" fill="#ff0000"/>
<rect x="497.5" y="539.0" width="5" height="15.7" fill="#ff0000"/>
<rect x="507.9" y="540.2" width="5" height="14.5" fill="#ff0000"/>
<rect x="518.4" y="542.0" width="5" height="12.7" fill="#ff0000"/>
<rect x="528.8" y="545.0" width="5" height="9.7" fill="#ff0000"/>
<rect x="539.2" y="552.1" width="5" height="2.6" fill="#ff0000"/>
<rect x="549.7" y="554.7" width="5" height="1.1" fill="#00ffff"/>
<rect x="560.1" y="554.7" width="5" height="1.1" fill="#00ffff"/>
<rect x="570.6" y="553.1" width="5" height="1.6" fill="#ff0000"/>
<rect x="581.0" y="548.3" width="5" height="6.4" fill="#ff0000"/>
<rect x="591.4" y="550.4" width="5" height="4.3" fill="#ff0000"/>
<rect x="601.9" y="553.1" width="5" height="1.6" fill="#ff0000"/>
<rect x="612.3" y="551.0" width="5" height="3.7" fill="#ff0000"/>
<rect x="622.8" y="553.6" width="5" height="1.1" fill="#ff0000"/>
<rect x="633.2" y="549.7" width="5" height="5.0" fill="#ff0000"/>
<rect x="643.6" y="547.6" width="5" height="7.1" fill="#ff0000"/>
<rect x="654.1" y="545.3" width="5" height="9.4" fill="#ff0000"/>
<rect x="664.5" y="548.3" width="5" height="6.4" fill="#ff0000"/>
<rect x="675.0" y="546.7" width="5" height="8.0" fill="#ff0000"/>
<rect x="685.4" y="547.4" width="5" height="7.3" fill="#ff0000"/>
<rect x="695.8" y="541.9" width="5" height="12.8" fill="#ff0000"/>
<rect x="706.3" y="539.9" width="5" height="14.8" fill="#ff0000"/>
<rect x="716.7" y="533.7" width="5" height="21.0" fill="#ff0000"/>
<rect x="727.2" y="534.6" width="5" height="20.1" fill="#ff0000"/>
<rect x="737.6" y="539.0" width="5" height="15.7" fill="#ff0000"/>
<rect x="748.0" y="541.9" width="5" height="12.8" fill="#ff0000"/>
<rect x="758.5" y="538.2" width="5" height="16.5" fill="#ff0000"/>
<rect x="768.9" y="534.8" width="5" height="19.9" fill="#ff0000"/>
<rect x="779.4" y="530.0" width="5" height="24.7" fill="#ff0000"/>
<rect x="789.8" y="522.1" width="5" height="32.6" fill="#ff0000"/>
<rect x="800.2" y="523.8" width="5" height="30.9" fill="#ff0000"/>
<rect x="810.7" y="526.9" width="5" height="27.8" fill="#ff0000"/>
<rect x="821.1" y="522.8" width="5" height="31.9" fill="#ff0000"/>
<rect x="831.6" y="542.9" width="5" height="11.8" fill="#ff0000"/>
<rect x="842.0" y="554.7" width="5" height="10.8" fill="#00ffff"/>
</g>
<polyline points="0.0,554.0 11.4,552.9 22.9,551.0 34.3,549.9 41.9,548.3 53.3,548.0 68.6,548.7 80.0,549.5 95.2,551.4 110.5,553.7 121.9,555.6 129.5,555.2 141.0,553.7 160.0,552.9 180.0,551.0 202.9,548.7 218.1,549.1 233.3,549.9 248.6,551.0 255.0,551.7 270.2,552.8 285.5,554.0 304.5,554.7 316.0,555.1 330.0,553.8 344.1,553.4 358.2,551.0 372.3,548.2 386.3,545.4 400.4,542.1 407.8,539.8 423.8,533.2 437.9,528.5 452.0,522.9 466.0,517.7 480.1,513.6 495.2,510.5 510.5,507.0 525.7,505.5 533.3,504.4 548.6,504.8 555.0,504.9 570.2,505.2 585.5,503.7 596.9,503.0 625.9,503.0 630.0,501.2 645.2,501.6 656.7,499.3 671.9,498.6 687.1,496.3 698.6,495.1 710.0,493.2 724.2,489.5 743.4,485.0 762.6,481.5 774.1,478.8 780.0,477.6 790.2,474.0 800.5,469.8 810.7,466.2 824.1,461.6 832.3,460.6 839.4,461.1 845.6,461.8" fill="none" stroke="#20e8ee" stroke-width="1.45"/>
<polyline points="0.0,551.4 7.6,548.7 15.2,544.5 22.9,542.6 32.0,542.6 40.4,543.0 49.5,546.8 57.1,549.1 68.6,551.0 80.0,553.3 87.6,556.3 99.0,559.0 110.5,559.0 118.1,557.9 129.5,556.0 141.0,551.8 160.0,549.5 171.0,547.5 180.0,546.0 192.2,546.0 197.5,547.2 202.9,547.6 208.2,550.6 218.1,551.0 229.5,552.1 239.4,553.3 248.6,553.7 255.0,555.1 270.2,557.0 285.5,557.0 300.7,556.6 312.1,554.0 323.6,553.2 330.0,551.0 346.0,549.1 358.2,545.4 372.3,541.2 386.3,536.5 395.7,531.8 405.0,525.7 416.3,522.4 428.5,515.8 437.9,513.9 447.3,508.8 458.5,504.6 470.7,502.7 480.0,502.1 505.1,501.7 512.0,499.8 531.8,499.8 537.9,502.9 547.8,503.6 555.0,506.0 568.7,506.0 573.3,503.3 585.5,500.7 594.6,500.7 595.4,501.4 625.9,501.4 630.0,500.5 641.4,498.6 652.9,495.1 671.9,495.1 679.5,493.6 687.9,493.6 694.8,490.2 705.0,487.5 709.0,486.6 719.6,479.6 730.3,478.8 752.6,478.0 764.9,473.4 774.1,468.8 785.0,462.3 792.8,456.5 803.6,453.6 812.8,452.6 817.9,448.8 824.1,445.8 827.1,447.3 835.3,455.5 838.4,459.6 845.0,467.6" fill="none" stroke="#dc0000" stroke-width="1.5"/>
</svg>
</body></html>
